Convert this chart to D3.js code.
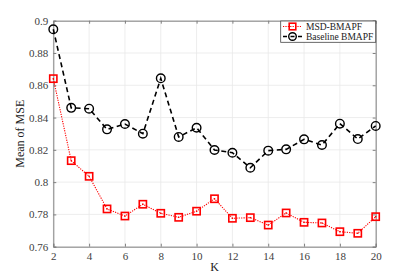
<!DOCTYPE html>
<html><head><meta charset="utf-8">
<script src="https://cdn.jsdelivr.net/npm/d3@7"></script>
<style>body{margin:0;background:#fff}svg{display:block}svg text{font-family:"Liberation Serif","Tinos","Times New Roman","DejaVu Serif",serif !important}</style>
</head><body><svg id="c" width="415" height="277"></svg>
<script>
const K = [2,3,4,5,6,7,8,9,10,11,12,13,14,15,16,17,18,19,20];
const msd = [0.8641,0.8133,0.8036,0.7834,0.7790,0.7863,0.7807,0.7782,0.7820,0.7897,0.7776,0.7780,0.7734,0.7809,0.7751,0.7747,0.7693,0.7683,0.7786];
const base = [0.8947,0.8460,0.8455,0.8327,0.8360,0.8300,0.8643,0.8280,0.8337,0.8199,0.8182,0.8089,0.8195,0.8203,0.8265,0.8230,0.8362,0.8267,0.8348];
const xTicks = [2,4,6,8,10,12,14,16,18,20];
const yTicks = [0.76,0.78,0.8,0.82,0.84,0.86,0.88,0.9];
const seriesNames = ["MSD-BMAPF","Baseline BMAPF"];

const svg = d3.select("#c");
const L=53.3,R=375.7,T=20.7,B=246.7;
const x = d3.scaleLinear().domain([2,20]).range([L,R]);
const y = d3.scaleLinear().domain([0.76,0.9]).range([B,T]);
const axisCol="#808080";

const g = svg.append("g");
g.selectAll(".gx").data(xTicks).join("line").attr("x1",d=>x(d)).attr("x2",d=>x(d)).attr("y1",T).attr("y2",B).attr("stroke","#e8e8e8").attr("stroke-width",0.8);
g.selectAll(".gy").data(yTicks).join("line").attr("x1",L).attr("x2",R).attr("y1",d=>y(d)).attr("y2",d=>y(d)).attr("stroke","#e8e8e8").attr("stroke-width",0.8);

const ax = svg.append("g").attr("transform",`translate(0,${B})`).call(d3.axisBottom(x).tickValues(xTicks).tickSize(-3).tickPadding(6).tickFormat(d3.format("d")));
const axT = svg.append("g").attr("transform",`translate(0,${T})`).call(d3.axisTop(x).tickValues(xTicks).tickSize(-3).tickFormat(""));
const ay = svg.append("g").attr("transform",`translate(${L},0)`).call(d3.axisLeft(y).tickValues(yTicks).tickSize(-3).tickPadding(5).tickFormat(d=>String(+d.toFixed(2))));
const ayR = svg.append("g").attr("transform",`translate(${R},0)`).call(d3.axisRight(y).tickValues(yTicks).tickSize(-3).tickFormat(""));
[ax,axT,ay,ayR].forEach(a=>{
  a.attr("font-family",null);
  a.selectAll("path").attr("stroke",axisCol).attr("stroke-width",1);
  a.selectAll("line").attr("stroke",axisCol);
  a.selectAll("text").attr("fill","#404040").style("font-size","11px");
});

const line = d3.line().x((d,i)=>x(K[i])).y(d=>y(d));
svg.append("path").datum(msd).attr("d",line).attr("fill","none").attr("stroke","#ff0000").attr("stroke-width",1.1).attr("stroke-dasharray","1.2,1.2");
svg.append("path").datum(base).attr("d",line).attr("fill","none").attr("stroke","#000").attr("stroke-width",1.6).attr("stroke-dasharray","5,3.5");

svg.selectAll(".sq").data(msd).join("rect").attr("x",(d,i)=>x(K[i])-3.6).attr("y",d=>y(d)-3.6).attr("width",7.2).attr("height",7.2).attr("fill","none").attr("stroke","#ff0000").attr("stroke-width",1.6);
svg.selectAll(".sqd").data(msd).join("rect").attr("x",(d,i)=>x(K[i])-0.7).attr("y",d=>y(d)-0.7).attr("width",1.4).attr("height",1.4).attr("fill","#ff0000");
svg.selectAll(".ci").data(base).join("circle").attr("cx",(d,i)=>x(K[i])).attr("cy",d=>y(d)).attr("r",4.3).attr("fill","none").attr("stroke","#000").attr("stroke-width",1.4);

svg.append("text").attr("x",(L+R)/2).attr("y",271).attr("text-anchor","middle").attr("fill","#222").style("font-size","12px").text("K");
svg.append("text").attr("transform",`translate(24,${(T+B)/2}) rotate(-90)`).attr("text-anchor","middle").attr("fill","#222").style("font-size","12px").text("Mean of MSE");

const lg = svg.append("g");
lg.append("rect").attr("x",280.7).attr("y",21).attr("width",95).attr("height",21.3).attr("fill","#fff").attr("stroke","#444").attr("stroke-width",0.8);
const ly=[26.5,36.5];
lg.append("line").attr("x1",283).attr("x2",302).attr("y1",ly[0]).attr("y2",ly[0]).attr("stroke","#ff0000").attr("stroke-width",1.1).attr("stroke-dasharray","1.2,1.2");
lg.append("rect").attr("x",292.5-3.3).attr("y",ly[0]-3.3).attr("width",6.6).attr("height",6.6).attr("fill","none").attr("stroke","#ff0000").attr("stroke-width",1.6);
lg.append("line").attr("x1",283).attr("x2",302).attr("y1",ly[1]).attr("y2",ly[1]).attr("stroke","#000").attr("stroke-width",1.6).attr("stroke-dasharray","4,3.5");
lg.append("circle").attr("cx",292.5).attr("cy",ly[1]).attr("r",3.8).attr("fill","none").attr("stroke","#000").attr("stroke-width",1.4);
lg.selectAll(".lt").data(seriesNames).join("text").attr("x",306).attr("y",(d,i)=>ly[i]+3.3).attr("fill","#222").style("font-size","9.5px").text(d=>d);
</script></body></html>
